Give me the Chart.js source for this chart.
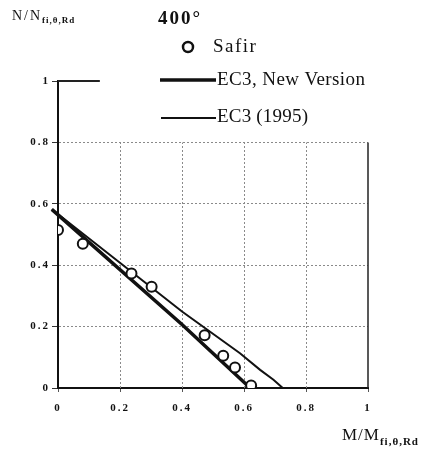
<!DOCTYPE html>
<html lang="en">
<head>
<meta charset="UTF-8">
<title>N-M interaction at 400°</title>
<style>
  body { margin: 0; background: #fff; }
  .wrap { width: 424px; height: 450px; }
</style>
</head>
<body>
<div class="wrap"><canvas id="chart" width="424" height="450"></canvas></div>
<script src="https://cdn.jsdelivr.net/npm/chart.js"></script>
<script>
// values (M/M_fi and N/N_fi)
const safirM = [0, 0.08, 0.237, 0.302, 0.473, 0.533, 0.571, 0.623];
const safirN = [0.515, 0.47, 0.373, 0.33, 0.172, 0.105, 0.067, 0.008];

const newM = [-0.02, 0.4, 0.62];
const newN = [0.582, 0.207, 0];

const oldM = [-0.02, 0.4, 0.587, 0.652, 0.695, 0.725];
const oldN = [0.582, 0.249, 0.113, 0.059, 0.027, 0];

const mTicks = [0, 0.2, 0.4, 0.6, 0.8, 1];
const mLabels = ['0', '0.2', '0.4', '0.6', '0.8', '1'];
const nTicks = [0, 0.2, 0.4, 0.6, 0.8, 1];
const nLabels = ['0', '0.2', '0.4', '0.6', '0.8', '1'];

const seriesNames = ['Safir', 'EC3, New Version', 'EC3 (1995)'];
const chartTitle = '400°';

const pairs = (xs, ys) => xs.map((x, i) => ({ x: x, y: ys[i] }));
const serif = '"Liberation Serif", "DejaVu Serif", serif';

// grid box only goes up to 0.8, the left axis goes to 1
const frame = {
    id: 'frame',
    beforeDatasetsDraw(chart) {
        const { ctx, scales: { x, y } } = chart;
        const y0 = y.getPixelForValue(0), y8 = y.getPixelForValue(0.8);
        ctx.save();
        ctx.strokeStyle = '#8a8a8a';
        ctx.lineWidth = 1;
        ctx.setLineDash([2, 2]);
        mTicks.forEach(v => {
            if (v === 0 || v === 1) return;
            const px = Math.round(x.getPixelForValue(v)) + 0.5;
            ctx.beginPath();
            ctx.moveTo(px, y0);
            ctx.lineTo(px, y8);
            ctx.stroke();
        });
        ctx.setLineDash([]);
        ctx.strokeStyle = '#222';
        ctx.lineWidth = 1.5;
        const xr = x.getPixelForValue(1);
        ctx.beginPath();
        ctx.moveTo(xr, y0);
        ctx.lineTo(xr, y8);
        ctx.stroke();
        // short stub at N = 1
        ctx.lineWidth = 2;
        const y1 = y.getPixelForValue(1);
        ctx.beginPath();
        ctx.moveTo(x.getPixelForValue(0), y1);
        ctx.lineTo(x.getPixelForValue(0.135), y1);
        ctx.stroke();
        ctx.restore();
    }
};

// subscripted axis titles, the title and the stacked legend
const labels = {
    id: 'labels',
    beforeDraw(chart) {
        chart.ctx.letterSpacing = '2px';
    },
    afterDraw(chart) {
        const ctx = chart.ctx;
        const ds = chart.data.datasets;
        ctx.save();
        ctx.letterSpacing = '0px';
        ctx.fillStyle = '#111';
        ctx.textBaseline = 'middle';
        ctx.textAlign = 'left';

        const sub = (main, subText, x, y, size, subSize, spacing) => {
            ctx.letterSpacing = spacing + 'px';
            ctx.font = size + 'px ' + serif;
            ctx.fillText(main, x, y);
            const w = ctx.measureText(main).width;
            ctx.font = 'bold ' + subSize + 'px ' + serif;
            ctx.letterSpacing = '1px';
            ctx.fillText(subText, x + w, y + size * 0.35);
        };
        sub('N/N', 'fi,θ,Rd', 12, 16, 14, 9, 2);
        sub('M/M', 'fi,θ,Rd', 342, 436, 17, 11, 1);

        ctx.font = 'bold 19px ' + serif;
        ctx.letterSpacing = '2px';
        ctx.fillText(chartTitle, 158, 19);

        ctx.font = '19px ' + serif;
        ctx.letterSpacing = '1.5px';
        // Safir marker
        ctx.beginPath();
        ctx.arc(188, 47, 5, 0, Math.PI * 2);
        ctx.fillStyle = '#fff';
        ctx.fill();
        ctx.lineWidth = 2.5;
        ctx.strokeStyle = '#111';
        ctx.stroke();
        ctx.fillStyle = '#111';
        ctx.fillText(ds[0].label, 213, 47);

        ctx.letterSpacing = '0.4px';
        ctx.lineWidth = ds[1].borderWidth;
        ctx.beginPath();
        ctx.moveTo(160, 80);
        ctx.lineTo(216, 80);
        ctx.stroke();
        ctx.fillText(ds[1].label, 217, 80);

        ctx.letterSpacing = '0.2px';
        ctx.lineWidth = ds[2].borderWidth;
        ctx.beginPath();
        ctx.moveTo(161, 118);
        ctx.lineTo(216, 118);
        ctx.stroke();
        ctx.fillText(ds[2].label, 217, 117);
        ctx.restore();
        ctx.letterSpacing = '0px';
    }
};

new Chart(document.getElementById('chart'), {
    type: 'scatter',
    data: {
        datasets: [
            {
                label: seriesNames[0],
                data: pairs(safirM, safirN),
                showLine: false,
                pointStyle: 'circle',
                pointRadius: 5,
                pointBorderWidth: 2,
                pointBackgroundColor: '#fff',
                pointBorderColor: '#111'
            },
            {
                label: seriesNames[1],
                data: pairs(newM, newN),
                showLine: true,
                borderColor: '#111',
                borderWidth: 3.5,
                pointRadius: 0,
                tension: 0,
                clip: false
            },
            {
                label: seriesNames[2],
                data: pairs(oldM, oldN),
                showLine: true,
                borderColor: '#111',
                borderWidth: 2,
                pointRadius: 0,
                tension: 0,
                clip: false
            }
        ]
    },
    options: {
        responsive: false,
        animation: false,
        events: [],
        layout: { padding: { top: 81, right: 56, left: 0, bottom: 0 } },
        plugins: {
            legend: { display: false },
            title: { display: false },
            tooltip: { enabled: false }
        },
        scales: {
            x: {
                type: 'linear',
                min: 0,
                max: 1,
                afterFit: s => { s.height = 62; },
                afterBuildTicks: s => { s.ticks = mTicks.map(v => ({ value: v })); },
                grid: { drawOnChartArea: false, drawTicks: true, tickLength: 4, tickColor: '#555' },
                border: { display: true, color: '#111', width: 2 },
                ticks: {
                    padding: 10,
                    color: '#111',
                    maxRotation: 0,
                    font: { family: serif, size: 11, weight: 'bold' },
                    callback: (v, i) => mLabels[i]
                }
            },
            y: {
                type: 'linear',
                min: 0,
                max: 1,
                afterFit: s => { s.width = 58; },
                afterBuildTicks: s => { s.ticks = nTicks.map(v => ({ value: v })); },
                grid: {
                    color: c => (c.tick && (c.tick.value === 0 || c.tick.value === 1)) ? 'rgba(0,0,0,0)' : '#8a8a8a',
                    lineWidth: 1,
                    drawTicks: true,
                    tickLength: 6,
                    tickColor: '#333'
                },
                border: { display: true, color: '#111', width: 2, dash: [2, 2] },
                ticks: {
                    padding: 2,
                    color: '#111',
                    font: { family: serif, size: 11, weight: 'bold' },
                    callback: (v, i) => nLabels[i]
                }
            }
        }
    },
    plugins: [frame, labels]
});
</script>
</body>
</html>
